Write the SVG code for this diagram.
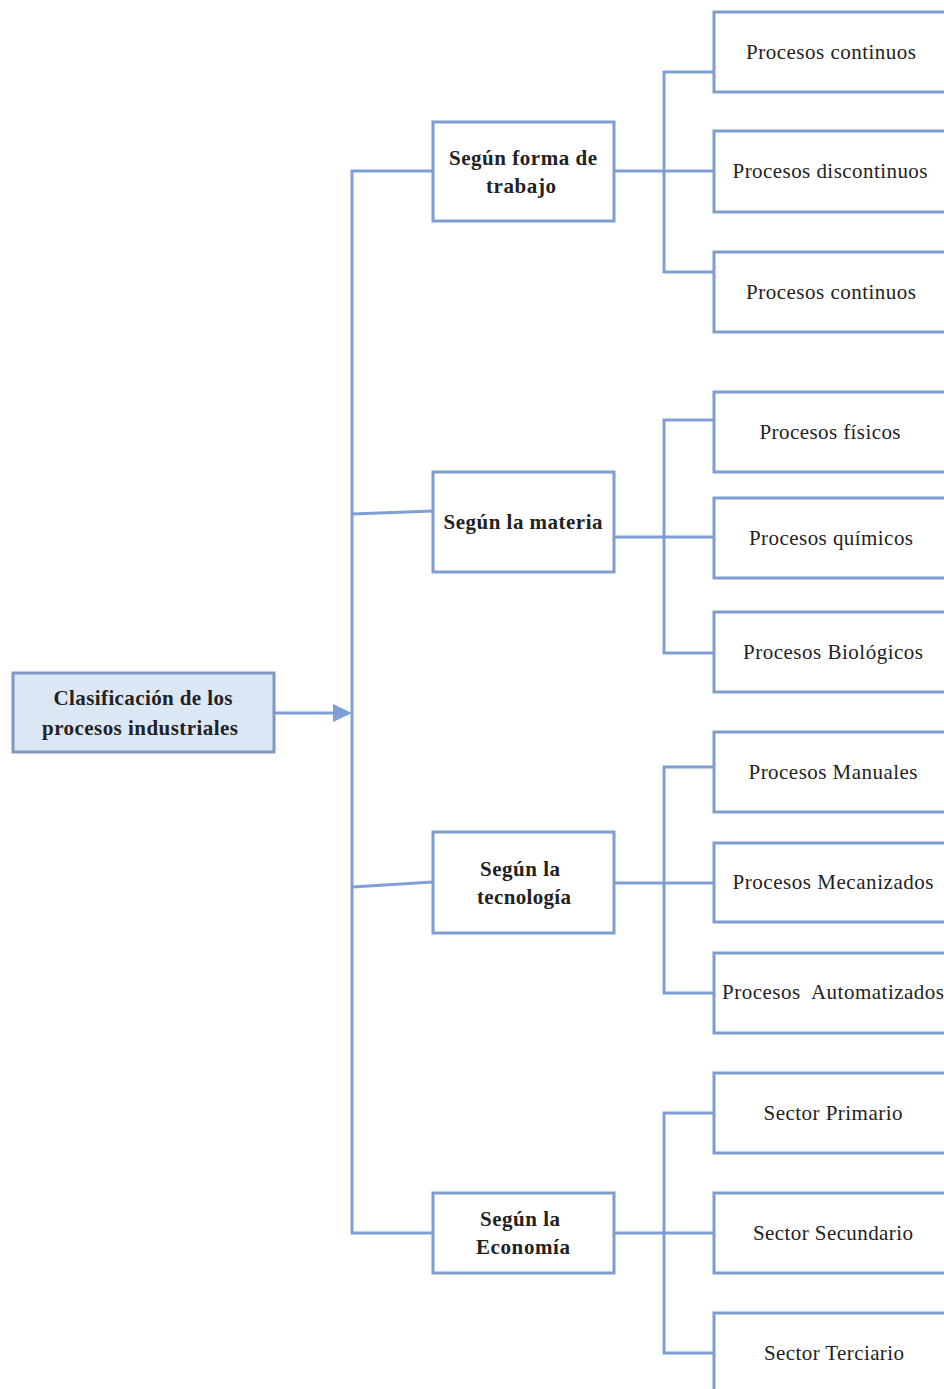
<svg xmlns="http://www.w3.org/2000/svg" width="944" height="1389" viewBox="0 0 944 1389">
<style>
.box{fill:#ffffff;stroke:#7f9dcf;stroke-width:3}
.root{fill:#dce7f6;stroke:#7f97c2;stroke-width:3}
.ln{fill:none;stroke:#7f9fd6;stroke-width:3}
.leaf{font-family:"Liberation Serif",serif;font-size:21px;fill:#222;text-anchor:middle}
.mid{font-family:"Liberation Serif",serif;font-size:21px;font-weight:bold;fill:#222;text-anchor:middle}
</style>
<rect width="944" height="1389" fill="#ffffff"/>
<g id="connectors">
<line class="ln" x1="275" y1="713" x2="333" y2="713"/>
<path d="M333,704 L352,713 L333,722 Z" fill="#7f9fd6"/>
<path class="ln" d="M433,171 H352 V1233 H433"/>
<line class="ln" x1="352" y1="514" x2="433" y2="511"/>
<line class="ln" x1="352" y1="887" x2="433" y2="882"/>
<path class="ln" d="M614,171 H714"/>
<path class="ln" d="M714,72 H664 V272 H714"/>
<path class="ln" d="M614,537 H714"/>
<path class="ln" d="M714,420 H664 V653 H714"/>
<path class="ln" d="M614,883 H714"/>
<path class="ln" d="M714,767 H664 V993 H714"/>
<path class="ln" d="M614,1233 H714"/>
<path class="ln" d="M714,1113 H664 V1353 H714"/>
</g>
<g id="root">
<rect class="root" x="13" y="673" width="261" height="79"/>
<text class="mid" x="143" y="705" textLength="179">Clasificación de los</text>
<text class="mid" x="140" y="735" textLength="196">procesos industriales</text>
</g>
<g id="mid1">
<rect class="box" x="433" y="122" width="181" height="99"/>
<text class="mid" x="523" y="165" textLength="148">Según forma de</text>
<text class="mid" x="521" y="193" textLength="70">trabajo</text>
</g>
<g id="mid2">
<rect class="box" x="433" y="472" width="181" height="100"/>
<text class="mid" x="523" y="529" textLength="159">Según la materia</text>
</g>
<g id="mid3">
<rect class="box" x="433" y="832" width="181" height="101"/>
<text class="mid" x="520" y="876" textLength="80">Según la</text>
<text class="mid" x="524" y="904" textLength="94">tecnología</text>
</g>
<g id="mid4">
<rect class="box" x="433" y="1193" width="181" height="80"/>
<text class="mid" x="520" y="1226" textLength="80">Según la</text>
<text class="mid" x="523" y="1254" textLength="94">Economía</text>
</g>
<g id="leaf1"><rect class="box" x="714" y="12" width="250" height="80"/><text class="leaf" x="831" y="59" textLength="170">Procesos continuos</text></g>
<g id="leaf2"><rect class="box" x="714" y="131" width="250" height="81"/><text class="leaf" x="830" y="178" textLength="195">Procesos discontinuos</text></g>
<g id="leaf3"><rect class="box" x="714" y="252" width="250" height="80"/><text class="leaf" x="831" y="299" textLength="170">Procesos continuos</text></g>
<g id="leaf4"><rect class="box" x="714" y="392" width="250" height="80"/><text class="leaf" x="830" y="439" textLength="141">Procesos físicos</text></g>
<g id="leaf5"><rect class="box" x="714" y="498" width="250" height="80"/><text class="leaf" x="831" y="545" textLength="164">Procesos químicos</text></g>
<g id="leaf6"><rect class="box" x="714" y="612" width="250" height="80"/><text class="leaf" x="833" y="659" textLength="180">Procesos Biológicos</text></g>
<g id="leaf7"><rect class="box" x="714" y="732" width="250" height="80"/><text class="leaf" x="833" y="779" textLength="169">Procesos Manuales</text></g>
<g id="leaf8"><rect class="box" x="714" y="843" width="250" height="79"/><text class="leaf" x="833" y="889" textLength="201">Procesos Mecanizados</text></g>
<g id="leaf9"><rect class="box" x="714" y="953" width="250" height="80"/><text class="leaf" x="833" y="999" textLength="222" xml:space="preserve">Procesos  Automatizados</text></g>
<g id="leaf10"><rect class="box" x="714" y="1073" width="250" height="80"/><text class="leaf" x="833" y="1120" textLength="139">Sector Primario</text></g>
<g id="leaf11"><rect class="box" x="714" y="1193" width="250" height="80"/><text class="leaf" x="833" y="1240" textLength="160">Sector Secundario</text></g>
<g id="leaf12"><rect class="box" x="714" y="1313" width="250" height="90"/><text class="leaf" x="834" y="1360" textLength="140">Sector Terciario</text></g>
</svg>
